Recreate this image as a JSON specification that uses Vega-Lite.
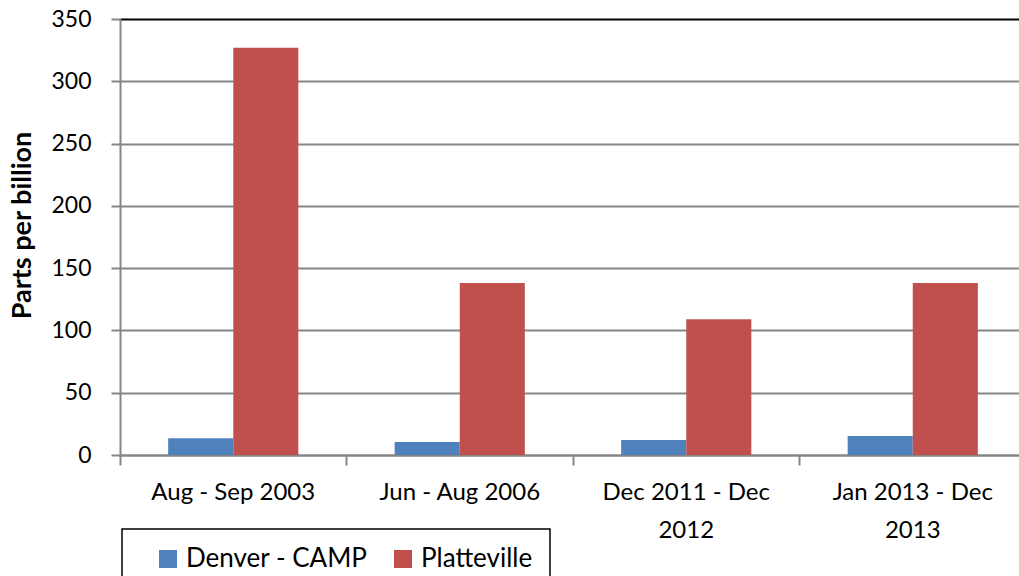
{
  "$schema": "https://vega.github.io/schema/vega-lite/v6.json",
  "autosize": "none",
  "width": 899,
  "height": 436,
  "padding": {"left": 120, "top": 19, "right": 0, "bottom": 121},
  "background": "white",
  "config": {"view": {"stroke": null}, "font": "Lato"},
  "data": {
    "values": [
      {"period": "Aug - Sep 2003", "site": "Denver - CAMP", "ppb": 13.5},
      {"period": "Aug - Sep 2003", "site": "Platteville", "ppb": 327},
      {"period": "Jun - Aug 2006", "site": "Denver - CAMP", "ppb": 10.5},
      {"period": "Jun - Aug 2006", "site": "Platteville", "ppb": 138},
      {"period": "Dec 2011 - Dec 2012", "site": "Denver - CAMP", "ppb": 12},
      {"period": "Dec 2011 - Dec 2012", "site": "Platteville", "ppb": 109},
      {"period": "Jan 2013 - Dec 2013", "site": "Denver - CAMP", "ppb": 15.3},
      {"period": "Jan 2013 - Dec 2013", "site": "Platteville", "ppb": 138}
    ]
  },
  "mark": {"type": "bar"},
  "encoding": {
    "x": {
      "field": "period",
      "type": "nominal",
      "sort": null,
      "scale": {"range": [0, 906], "paddingInner": 0, "paddingOuter": 0},
      "axis": {
        "title": null,
        "labelAngle": 0,
        "bandPosition": 0,
        "domainColor": "#868686",
        "domainWidth": 2,
        "tickColor": "#868686",
        "tickWidth": 2,
        "tickSize": 10,
        "labelPadding": 15,
        "labelFont": "Lato",
        "labelFontSize": 24,
        "labelColor": "black",
        "labelLineHeight": 38,
        "labelLimit": 400,
        "labelExpr": "datum.value == 'Dec 2011 - Dec 2012' ? ['Dec 2011 - Dec', '2012'] : datum.value == 'Jan 2013 - Dec 2013' ? ['Jan 2013 - Dec', '2013'] : datum.value"
      }
    },
    "xOffset": {
      "field": "site",
      "sort": ["Denver - CAMP", "Platteville"],
      "scale": {"paddingInner": 0, "paddingOuter": 0.74}
    },
    "y": {
      "field": "ppb",
      "type": "quantitative",
      "scale": {"domain": [0, 350], "nice": false},
      "axis": {
        "title": "Parts per billion",
        "titleFont": "Lato",
        "titleFontSize": 27,
        "titleFontWeight": "bold",
        "titleColor": "black",
        "titleAngle": 270,
        "titleAlign": "center",
        "titleBaseline": "middle",
        "titleX": -98,
        "titleY": 206,
        "values": [0, 50, 100, 150, 200, 250, 300, 350],
        "domainColor": "#868686",
        "domainWidth": 2,
        "tickColor": "#868686",
        "tickWidth": 2,
        "tickSize": 9,
        "labelPadding": 20,
        "labelFont": "Lato",
        "labelFontSize": 23,
        "labelColor": "black",
        "grid": true,
        "gridWidth": 2,
        "gridColor": {"condition": {"test": "datum.value == 350", "value": "black"}, "value": "#868686"}
      }
    },
    "color": {
      "field": "site",
      "type": "nominal",
      "scale": {"domain": ["Denver - CAMP", "Platteville"], "range": ["#4F81BD", "#C0504D"]},
      "legend": {
        "title": null,
        "orient": "none",
        "legendX": 2,
        "legendY": 510,
        "direction": "horizontal",
        "columns": 2,
        "strokeColor": "black",
        "padding": 17,
        "symbolOffset": 16,
        "symbolType": "square",
        "symbolSize": 324,
        "symbolStrokeWidth": 0,
        "labelFont": "Lato",
        "labelFontSize": 26,
        "labelColor": "black",
        "labelOffset": 5,
        "columnPadding": 6,
        "labelLimit": 400,
        "encode": {"legend": {"update": {"strokeWidth": {"value": 1.5}}}}
      }
    }
  }
}
